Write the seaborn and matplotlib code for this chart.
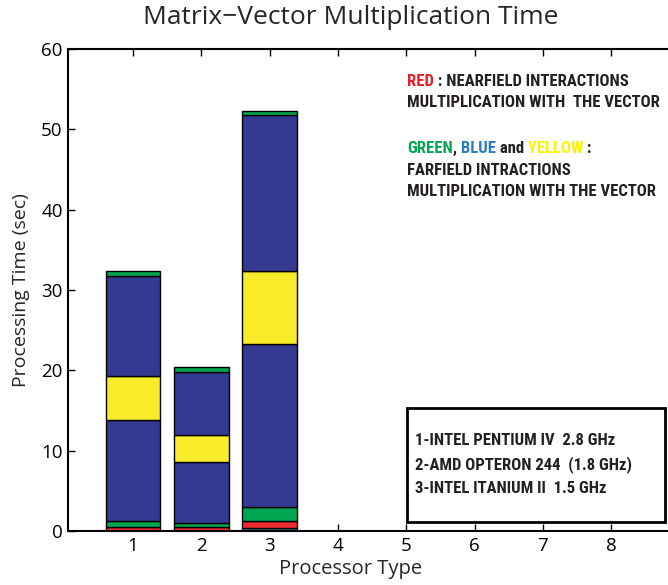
import matplotlib
matplotlib.use("Agg")
import matplotlib.pyplot as plt
import seaborn as sns
import numpy as np
import pandas as pd
from matplotlib.patches import Rectangle

# ---- data ----
processors = [1, 2, 3]
teal_seg   = [0.0, 0.0, 0.35]
red_seg    = [0.45, 0.45, 0.85]
green_low  = [0.85, 0.5, 1.75]
blue_low   = [12.5, 7.6, 20.35]
yellow_seg = [5.5, 3.45, 9.1]
blue_high  = [12.5, 7.8, 19.4]
green_top  = [0.6, 0.6, 0.5]
xticks = [1, 2, 3, 4, 5, 6, 7, 8]
yticks = [0, 10, 20, 30, 40, 50, 60]
legend_lines = ["1-INTEL PENTIUM IV  2.8 GHz",
                "2-AMD OPTERON 244  (1.8 GHz)",
                "3-INTEL ITANIUM II  1.5 GHz"]

segments = [
    (teal_seg, "#1b8a9b"),
    (red_seg, "#ed2a2e"),
    (green_low, "#00a651"),
    (blue_low, "#343a92"),
    (yellow_seg, "#f7eb2a"),
    (blue_high, "#343a92"),
    (green_top, "#00a651"),
]

sns.set_style("white")
plt.rcParams['font.family'] = ['Open Sans', 'DejaVu Sans']

fig = plt.figure(figsize=(6.68, 5.85), dpi=100)
W, H = 668, 585
ax_left, ax_right = 68.3, 679.4
ax_bot, ax_top = 531, 49
ax = fig.add_axes([ax_left / W, (H - ax_bot) / H, (ax_right - ax_left) / W, (ax_bot - ax_top) / H])

bottom = np.zeros(len(processors))
for vals, col in segments:
    vals = np.array(vals, dtype=float)
    df = pd.DataFrame({"p": processors, "v": vals})
    sns.barplot(data=df, x="p", y="v", native_scale=True, color=col, saturation=1,
                width=0.8, bottom=bottom, edgecolor="black", linewidth=1.0,
                errorbar=None, ax=ax)
    bottom = bottom + vals

ax.set_xlim(0.05, 9)
ax.set_ylim(0, 60)
ax.set_xticks(xticks)
ax.set_xticklabels([str(t) for t in xticks])
ax.set_yticks(yticks)
ax.tick_params(direction="in", length=5, width=1, labelsize=13.5, colors="black",
               top=True, bottom=True, left=True, right=False, pad=4)
for s in ["left", "bottom", "top"]:
    ax.spines[s].set_visible(True)
    ax.spines[s].set_linewidth(1.5)
    ax.spines[s].set_color("black")
ax.spines["right"].set_visible(False)

ax.set_xlabel("Processor Type", fontsize=14.5)
ax.set_ylabel("Processing Time (sec)", fontsize=14)
ax.xaxis.set_label_coords((351 - ax_left) / (ax_right - ax_left), -0.058)
ax.yaxis.set_label_coords(-0.063, 0.5)
fig.text(351 / W, 1 - 18 / H, "Matrix\u2212Vector Multiplication Time", ha="center", va="center",
         fontsize=19)

# ---- annotation text ----
nfam = ['Roboto Condensed', 'Roboto', 'DejaVu Sans']
dark = "#231f20"
renderer = fig.canvas.get_renderer()

# fit the font size so a reference line has the reference width
probe = fig.text(0, 0, "MULTIPLICATION WITH THE VECTOR", fontsize=11, fontweight="bold",
                 family=nfam)
pw = probe.get_window_extent(renderer).width
probe.remove()
FS = 11 * 248.0 / pw

def colored_line(xpx, ypx, parts):
    x = xpx / W
    y = 1 - ypx / H
    for s, c in parts:
        t = fig.text(x, y, s, color=c, fontsize=FS, fontweight="bold", family=nfam,
                     ha="left", va="baseline")
        bb = t.get_window_extent(renderer)
        x = bb.x1 / fig.bbox.width

colored_line(407, 86, [("RED", "#ee1c25"), (" : NEARFIELD INTERACTIONS", dark)])
colored_line(407, 107, [("MULTIPLICATION WITH  THE VECTOR", dark)])
colored_line(407, 153, [("GREEN", "#00a651"), (",", dark), (" BLUE", "#2b7bc0"),
                        (" and", dark), (" YELLOW", "#fff200"), (" :", dark)])
colored_line(407, 175, [("FARFIELD INTRACTIONS", dark)])
colored_line(407, 196, [("MULTIPLICATION WITH THE VECTOR", dark)])

# legend box
fig.patches.append(Rectangle((407 / W, 1 - 522 / H), (665 - 407) / W, (522 - 408) / H,
                             transform=fig.transFigure, fill=False, edgecolor="black",
                             linewidth=2))
for i, line in enumerate(legend_lines):
    colored_line(415, 445 + i * 24, [(line, dark)])

fig.savefig("out.png", dpi=100)
